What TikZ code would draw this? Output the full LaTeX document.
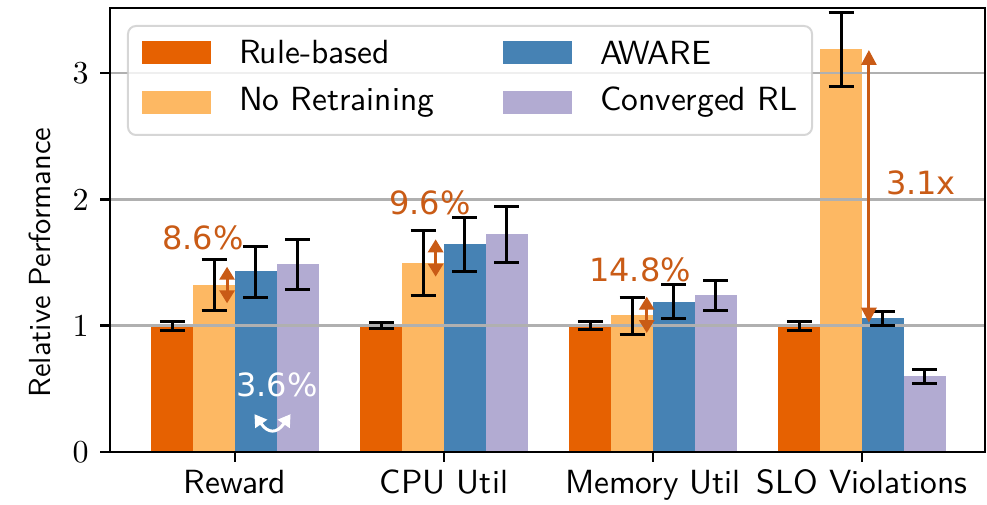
\documentclass[tikz,border=0pt]{standalone}
\usepackage{fontspec}
\newfontfamily\annfont{DejaVu Sans}
\newfontfamily\lmsten[Extension=.otf]{lmsans10-regular}
\newfontfamily\lmrten[Extension=.otf]{lmroman10-regular}
\usetikzlibrary{arrows.meta}
\definecolor{cRB}{HTML}{E66101}
\definecolor{cNR}{HTML}{FDB863}
\definecolor{cAW}{HTML}{4682B4}
\definecolor{cCR}{HTML}{B2ABD2}
\definecolor{cAnn}{HTML}{C95B16}
\definecolor{cGrid}{HTML}{B0B0B0}
\definecolor{cLeg}{HTML}{CCCCCC}
\begin{document}
\begin{tikzpicture}[x=209pt,y=126.3pt,
  lbl/.style={font=\fontsize{33.5}{40}\selectfont\lmsten, inner sep=0pt},
  ylbl/.style={font=\fontsize{30.5}{36}\selectfont\lmsten, inner sep=0pt},
  ticklbl/.style={font=\fontsize{32}{38}\selectfont\lmrten, inner sep=0pt},
  ann/.style={font=\fontsize{32}{38}\selectfont\annfont, text=cAnn, inner sep=0pt},
  errbar/.style={line width=3pt, black},
  gridline/.style={line width=2.5pt, cGrid},
  spine/.style={line width=2.5pt, black, line cap=rect},
  tickmark/.style={line width=2.5pt, black},
  annarrow/.style={cAnn, line width=3pt, {Triangle[length=13pt,width=15pt]}-{Triangle[length=13pt,width=15pt]}},
  bigarrow/.style={cAnn, line width=3pt, {Triangle[length=15pt,width=15pt]}-{Triangle[length=15pt,width=15pt]}},
]
\useasboundingbox (-1.1244,-0.4196) rectangle (3.5981,3.5788);

% bars: group/index/height/colour
\foreach \g/\k/\h/\col in {
  0/0/1.00/cRB, 0/1/1.322/cNR, 0/2/1.433/cAW, 0/3/1.489/cCR,
  1/0/1.00/cRB, 1/1/1.496/cNR, 1/2/1.647/cAW, 1/3/1.726/cCR,
  2/0/1.00/cRB, 2/1/1.085/cNR, 2/2/1.19/cAW, 2/3/1.24/cCR,
  3/0/1.00/cRB, 3/1/3.19/cNR, 3/2/1.06/cAW, 3/3/0.60/cCR}
{
  \pgfmathsetmacro{\xc}{\g-0.3+0.2*\k}
  \fill[\col] (\xc-0.1,0) rectangle (\xc+0.1,\h);
}

% grid lines (drawn over bars)
\foreach \v in {1,2,3} {
  \draw[gridline] (-0.598,\v) -- (3.589,\v);
}

% error bars
\foreach \g/\k/\lo/\hi in {
  0/0/0.965/1.035, 0/1/1.119/1.528, 0/2/1.227/1.626, 0/3/1.29/1.679,
  1/0/0.975/1.025, 1/1/1.24/1.75, 1/2/1.433/1.855, 1/3/1.50/1.94,
  2/0/0.97/1.03, 2/1/0.93/1.22, 2/2/1.06/1.33, 2/3/1.12/1.36,
  3/0/0.96/1.03, 3/1/2.89/3.48, 3/2/1.005/1.11, 3/3/0.544/0.65}
{
  \pgfmathsetmacro{\xc}{\g-0.3+0.2*\k}
  \draw[errbar] (\xc,\lo) -- (\xc,\hi);
  \draw[errbar] (\xc-0.06,\lo) -- (\xc+0.06,\lo);
  \draw[errbar] (\xc-0.06,\hi) -- (\xc+0.06,\hi);
}

% axes frame
\draw[spine] (-0.598,0) rectangle (3.589,3.5154);

% y ticks
\foreach \v in {0,1,2,3} {
  \draw[tickmark] (-0.598,\v) -- (-0.646,\v);
  \node[ticklbl, anchor=east] (yt\v) at (-0.699,\v) {\v};
}
% x ticks and labels
\foreach \g/\name in {0/Reward,1/CPU Util,2/Memory Util,3/SLO Violations} {
  \draw[tickmark] (\g,0) -- (\g,-0.079);
  \node[lbl, anchor=base] (xt\g) at (\g,-0.33) {\name};
}
\node[ylbl, rotate=90] (ylabel) at (-0.933,1.50) {Relative Performance};

% legend
\draw[cLeg, line width=2pt, rounded corners=8pt, fill=white, fill opacity=0.8, draw opacity=0.8]
  (-0.512,2.510) rectangle (2.761,3.373);
\fill[cRB] (-0.445,3.072) rectangle (-0.115,3.254);
\fill[cNR] (-0.445,2.676) rectangle (-0.115,2.858);
\fill[cAW] (1.282,3.072) rectangle (1.612,3.254);
\fill[cCR] (1.282,2.676) rectangle (1.612,2.858);
\node[lbl, anchor=west] (l1) at (0.019,3.163) {Rule-based};
\node[lbl, anchor=west] (l2) at (0.019,2.767) {No Retraining};
\node[lbl, anchor=west] (l3) at (1.746,3.163) {AWARE};
\node[lbl, anchor=west] (l4) at (1.746,2.767) {Converged RL};

% annotations
\node[ann] (a86) at (-0.153,1.694) {8.6\%};
\coordinate (a86t) at (-0.038,1.467);
\coordinate (a86b) at (-0.038,1.177);
\draw[annarrow] (a86t) -- (a86b);

\node[ann] (a96) at (0.933,1.971) {9.6\%};
\coordinate (a96t) at (0.960,1.684);
\coordinate (a96b) at (0.960,1.388);
\draw[annarrow] (a96t) -- (a96b);

\node[ann] (a148) at (1.938,1.441) {14.8\%};
\coordinate (a148t) at (1.970,1.23);
\coordinate (a148b) at (1.970,0.942);
\draw[annarrow] (a148t) -- (a148b);

\node[ann] (a31) at (3.282,2.13) {3.1x};
\coordinate (a31t) at (3.033,3.183);
\coordinate (a31b) at (3.033,1.024);
\draw[bigarrow] (a31t) -- (a31b);

\node[ann, text=white] (a36) at (0.201,0.530) {3.6\%};
\coordinate (a36l) at (0.093,0.300);
\coordinate (a36r) at (0.266,0.300);
\draw[white, line width=3pt, {Triangle[length=12pt,width=14pt]}-{Triangle[length=12pt,width=14pt]}]
  (a36l) to[out=-55,in=-125,looseness=1.7] (a36r);
\end{tikzpicture}
\end{document}
